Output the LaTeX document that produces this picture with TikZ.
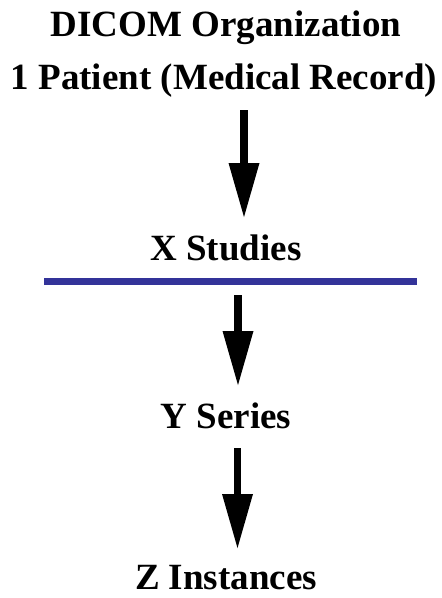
\documentclass[tikz,border=0pt]{standalone}
\usepackage{fontspec}
\setmainfont{Liberation Serif}
\usetikzlibrary{arrows.meta}
\definecolor{rulebl}{HTML}{333399}
\begin{document}
\begin{tikzpicture}[x=1pt,y=-1pt,
  lbl/.style={anchor=base,inner sep=0pt,font=\fontsize{37}{44}\selectfont\bfseries},
  arr/.style={line width=7.5pt,-{Triangle[length=54pt,width=31pt,line width=0pt]}},
  blrule/.style={line width=7pt,draw=rulebl}]
\useasboundingbox (0,0) rectangle (442,598);
\node[lbl] (title) at (226,36) {DICOM Organization};
\node[lbl] (patient) at (224,89) {1 Patient (Medical Record)};
\node[lbl] (studies) at (226,260) {X Studies};
\node[lbl] (series) at (226,428) {Y Series};
\node[lbl] (inst) at (226,589) {Z Instances};
\coordinate (a1s) at (244,110); \coordinate (a1e) at (244,217);
\coordinate (a2s) at (238,295); \coordinate (a2e) at (238,385);
\coordinate (a3s) at (237.5,448); \coordinate (a3e) at (237.5,548);
\coordinate (rl) at (44,281); \coordinate (rr) at (417,281);
\draw[arr] (a1s) -- (a1e);
\draw[arr] (a2s) -- (a2e);
\draw[arr] (a3s) -- (a3e);
\draw[blrule] (rl) -- (rr);
\end{tikzpicture}
\end{document}
